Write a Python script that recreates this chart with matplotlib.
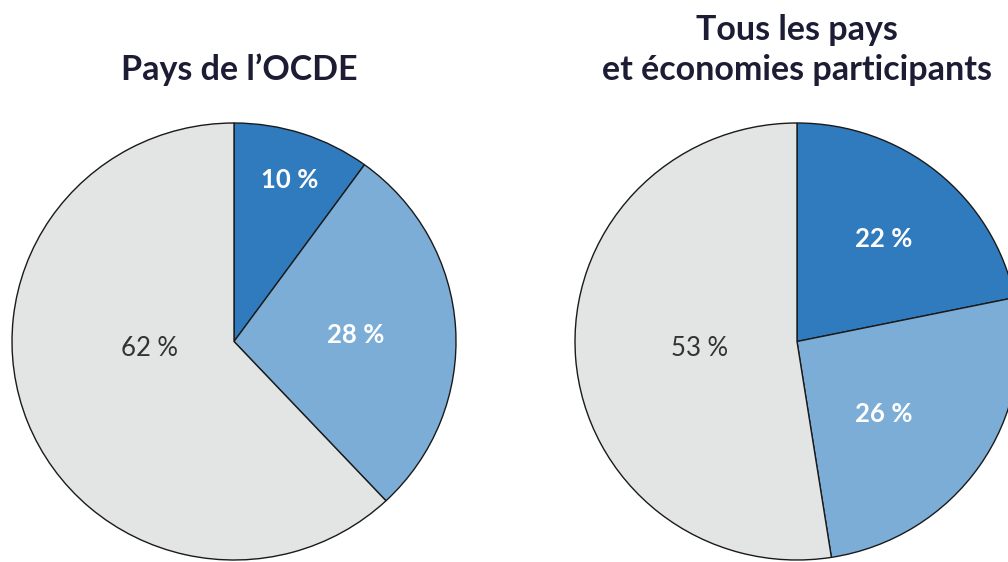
import matplotlib
matplotlib.use('Agg')
import matplotlib.pyplot as plt

titles = ["Pays de l\u2019OCDE", "Tous les pays\net \u00e9conomies participants"]
shares_ocde = [10, 28, 62]
shares_all = [22, 26, 53]
colors = ['#2f7bbd', '#7cadd6', '#e3e4e4']
label_colors = ['white', 'white', '#333333']
label_weights = ['bold', 'bold', 'normal']

# where the percentages sit inside each pie (axes units, radius 1)
label_pos = [
    [(0.25, 0.74), (0.55, 0.03), (-0.38, -0.03)],
    [(0.39, 0.47), (0.39, -0.33), (-0.44, -0.03)],
]

W, H = 1008, 562
fig = plt.figure(figsize=(W / 100, H / 100), dpi=100)
font = ['Lato', 'DejaVu Sans']

# pie boxes in pixels: left, top, width, height
boxes = [(12, 123, 444, 437), (575, 123, 444, 437)]

for i, shares in enumerate([shares_ocde, shares_all]):
    l, t, w, h = boxes[i]
    ax = fig.add_axes([l / W, (H - t - h) / H, w / W, h / H])
    wedges, _ = ax.pie(shares, colors=colors, startangle=90, counterclock=False,
                       radius=1, wedgeprops=dict(edgecolor='#1a1a1a', linewidth=1.0))
    ax.set_aspect('auto')
    ax.set_xlim(-1, 1)
    ax.set_ylim(-1, 1)
    ax.axis('off')
    for j, v in enumerate(shares):
        x, y = label_pos[i][j]
        ax.text(x, y, f"{v}\u2009\u2009%", ha='center', va='center', fontsize=18.5,
                color=label_colors[j], fontweight=label_weights[j],
                family=font)

fig.text(239 / W, 1 - 70 / H, titles[0], ha='center', va='center',
         fontsize=24.5, fontweight='bold', color='#1c1c34', family=font)
fig.text(797 / W, 1 - 50 / H, titles[1], ha='center', va='center',
         fontsize=24.5, fontweight='bold', color='#1c1c34', family=font,
         linespacing=1.3)

fig.savefig('out.png', dpi=100)
